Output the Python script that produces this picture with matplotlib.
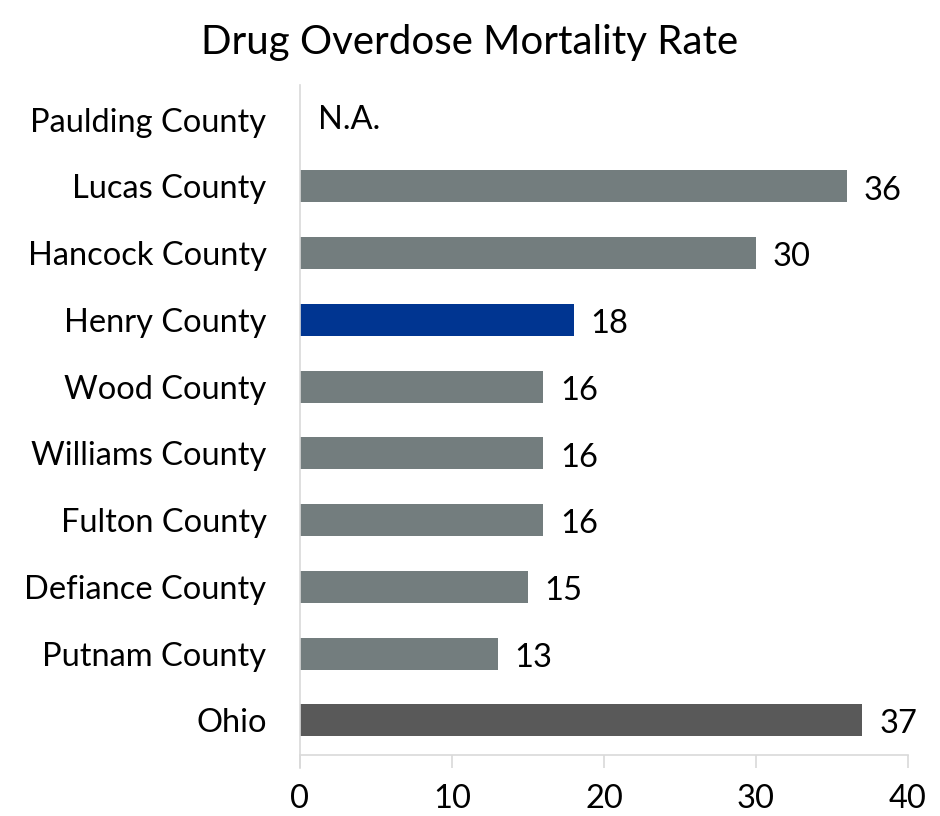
import numpy as np
import matplotlib.pyplot as plt

plt.rcParams["font.family"] = ["Lato", "DejaVu Sans"]

# counties listed bottom to top
counties = ["Ohio", "Putnam County", "Defiance County", "Fulton County",
            "Williams County", "Wood County", "Henry County",
            "Hancock County", "Lucas County", "Paulding County"]
rates = [37, 13, 15, 16, 16, 16, 18, 30, 36, np.nan]
colors = ["#595959", "#737D7E", "#737D7E", "#737D7E", "#737D7E",
          "#737D7E", "#003591", "#737D7E", "#737D7E", "#737D7E"]

FS = 23.5


def main():
    fig = plt.figure(figsize=(9.4, 8.16), dpi=100)
    ax = fig.add_axes([0.319, 0.0748, 0.647, 0.821])

    y = np.arange(len(counties))
    vals = np.nan_to_num(rates, nan=0.0)
    ax.barh(y, vals, height=0.48, color=colors)

    for yi, v in zip(y, rates):
        if np.isnan(v):
            ax.text(1.2, yi, "N.A.", va="center", ha="left", fontsize=FS)
        else:
            ax.annotate(f"{v:.0f}", (v, yi), xytext=(12, -3),
                        textcoords="offset points", va="center", ha="left",
                        fontsize=FS)

    ax.set_xlim(0, 40)
    ax.set_ylim(-0.52, 9.52)
    ax.set_yticks(y)
    ax.set_yticklabels(counties, fontsize=FS)
    ax.set_xticks([0, 10, 20, 30, 40])
    ax.tick_params(axis="x", labelsize=23.5, length=9, width=1.2,
                   color="#D9D9D9", pad=12)
    ax.tick_params(axis="y", length=0, pad=24)

    for s in ["top", "right"]:
        ax.spines[s].set_visible(False)
    ax.spines["left"].set_color("#D9D9D9")
    ax.spines["left"].set_linewidth(1.2)
    ax.spines["left"].set_bounds(-0.72, 9.52)
    ax.spines["bottom"].set_color("#D9D9D9")
    ax.spines["bottom"].set_linewidth(1.2)

    fig.suptitle("Drug Overdose Mortality Rate", fontsize=29, y=0.97)
    fig.savefig("out.png", dpi=100)
    return 0


if __name__ == "__main__":
    raise SystemExit(main())
